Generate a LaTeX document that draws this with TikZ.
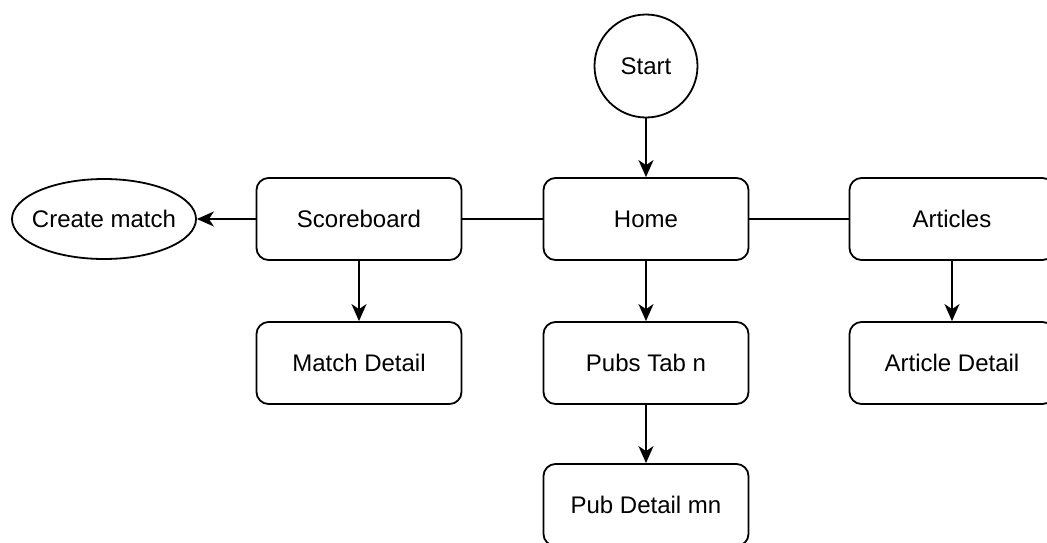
\documentclass[tikz,border=0pt]{standalone}
\usepackage{fontspec}
\setmainfont{Liberation Sans}
\usetikzlibrary{arrows.meta,shapes.geometric}
\begin{document}
\begin{tikzpicture}[x=1pt,y=-1pt,
  every node/.style={font=\fontsize{24}{28}\selectfont},
  pagebox/.style={draw,line width=1.8pt,rounded corners=12pt,minimum width=205pt,minimum height=82pt,inner sep=0pt},
  conn/.style={line width=1.8pt},
  arr/.style={conn,-{Stealth[length=17pt,width=15pt,inset=5pt]}}]
\useasboundingbox (0,0) rectangle (1047,542);
\clip (0,0) rectangle (1047,542);
\node[draw,circle,line width=1.8pt,minimum size=103pt,inner sep=0pt] (start) at (646,66) {Start};
\node[pagebox] (home) at (646,219) {Home};
\node[pagebox] (score) at (359,219) {Scoreboard};
\node[pagebox] (articles) at (952,219) {Articles};
\node[draw,ellipse,line width=1.8pt,minimum width=184pt,minimum height=80pt,inner xsep=-7pt,inner ysep=0pt] (create) at (104,219) {Create match};
\node[pagebox] (match) at (359,363) {Match Detail};
\node[pagebox] (pubs) at (646,363) {Pubs Tab n};
\node[pagebox] (artdet) at (952,363) {Article Detail};
\node[pagebox] (pubdet) at (646,505) {Pub Detail mn};
\draw[arr] (start) -- (home);
\draw[conn] (home) -- (score);
\draw[conn] (home) -- (articles);
\draw[arr] (score) -- (create);
\draw[arr] (score) -- (match);
\draw[arr] (home) -- (pubs);
\draw[arr] (articles) -- (artdet);
\draw[arr] (pubs) -- (pubdet);
\end{tikzpicture}
\end{document}
